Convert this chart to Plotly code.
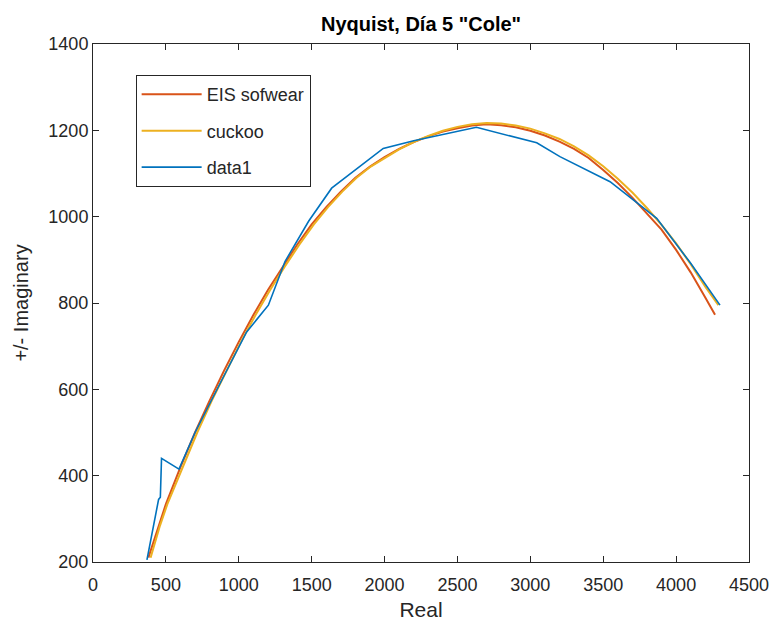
import plotly.graph_objects as go

# EIS software fit (Cole model)
eis_real = [380, 450, 500, 600, 700, 800, 900, 1000, 1100, 1200, 1300, 1400,
            1500, 1600, 1700, 1800, 1900, 2000, 2100, 2200, 2300, 2400, 2500,
            2600, 2700, 2800, 2900, 3000, 3100, 3200, 3300, 3400, 3500, 3600,
            3700, 3800, 3900, 4000, 4100, 4200, 4267]
eis_imag = [210, 285, 334, 420, 500, 574, 644, 710, 772, 830, 884, 935,
            982, 1022, 1058, 1090, 1116, 1138, 1157, 1173, 1186, 1197, 1205,
            1211, 1214, 1212, 1207, 1199, 1188, 1174, 1157, 1136, 1108, 1078,
            1044, 1007, 970, 923, 871, 813, 773]

# cuckoo-search fit
cuckoo_real = [395, 460, 510, 615, 715, 815, 915, 1015, 1115, 1215, 1315, 1415,
               1515, 1612, 1710, 1808, 1905, 2000, 2100, 2200, 2300, 2400, 2500,
               2600, 2700, 2800, 2900, 3000, 3100, 3200, 3300, 3400, 3500, 3600,
               3700, 3800, 3900, 4000, 4100, 4200, 4290]
cuckoo_imag = [210, 285, 334, 420, 500, 574, 644, 710, 772, 830, 884, 935,
               982, 1022, 1058, 1090, 1116, 1136, 1156, 1173, 1187, 1199, 1208,
               1214, 1217, 1216, 1211, 1204, 1193, 1180, 1163, 1142, 1117, 1088,
               1056, 1020, 981, 938, 890, 838, 795]

# measured data
data_real = [370, 450, 462, 470, 590, 700, 860, 1054, 1203, 1317, 1480, 1637,
             1991, 2200, 2630, 2792, 3044, 3203, 3547, 3752, 3867, 4100, 4301]
data_imag = [205, 345, 350, 440, 415, 500, 606, 733, 795, 896, 990, 1066,
             1158, 1176, 1207, 1193, 1171, 1139, 1081, 1027, 996, 892, 795]

x_ticks = [0, 500, 1000, 1500, 2000, 2500, 3000, 3500, 4000, 4500]
y_ticks = [200, 400, 600, 800, 1000, 1200, 1400]

FONT = "Liberation Sans, Arial, sans-serif"
AX = "#262626"

fig = go.Figure()
fig.add_trace(go.Scatter(x=eis_real, y=eis_imag, mode="lines", name="EIS sofwear",
                         legendgroup="a", line=dict(color="#D95319", width=2)))
fig.add_trace(go.Scatter(x=cuckoo_real, y=cuckoo_imag, mode="lines", name="cuckoo",
                         legendgroup="b", line=dict(color="#EDB120", width=2)))
fig.add_trace(go.Scatter(x=data_real, y=data_imag, mode="lines", name="data1",
                         legendgroup="c", line=dict(color="#0072BD", width=1.6)))

axis_common = dict(showline=True, linecolor=AX, linewidth=1, mirror="ticks",
                   ticks="inside", ticklen=6, tickcolor=AX, showgrid=False,
                   zeroline=False, automargin=False,
                   tickfont=dict(family=FONT, size=18, color=AX))

fig.update_layout(
    width=776, height=625,
    margin=dict(l=93, r=27, t=44, b=63),
    paper_bgcolor="white", plot_bgcolor="white",
    title=dict(text='<b>Nyquist, Día 5 "Cole"</b>', x=(93 + 328) / 776, xanchor="center",
               y=1 - 24 / 625, yanchor="middle",
               font=dict(family=FONT, size=20, color="black")),
    xaxis=dict(range=[0, 4500], tickvals=x_ticks, ticklabelstandoff=6,
               title=dict(text="Real", font=dict(family=FONT, size=21, color=AX), standoff=8),
               **axis_common),
    yaxis=dict(range=[200, 1400], tickvals=y_ticks,
               title=dict(text="+/- Imaginary", font=dict(family=FONT, size=20, color=AX), standoff=14),
               **axis_common),
    legend=dict(x=0.065, y=0.94, xanchor="left", yanchor="top",
                bordercolor=AX, borderwidth=1, bgcolor="white",
                font=dict(family=FONT, size=18, color=AX),
                tracegroupgap=10, itemwidth=60),
    showlegend=True,
)

fig.write_html("out.html")
